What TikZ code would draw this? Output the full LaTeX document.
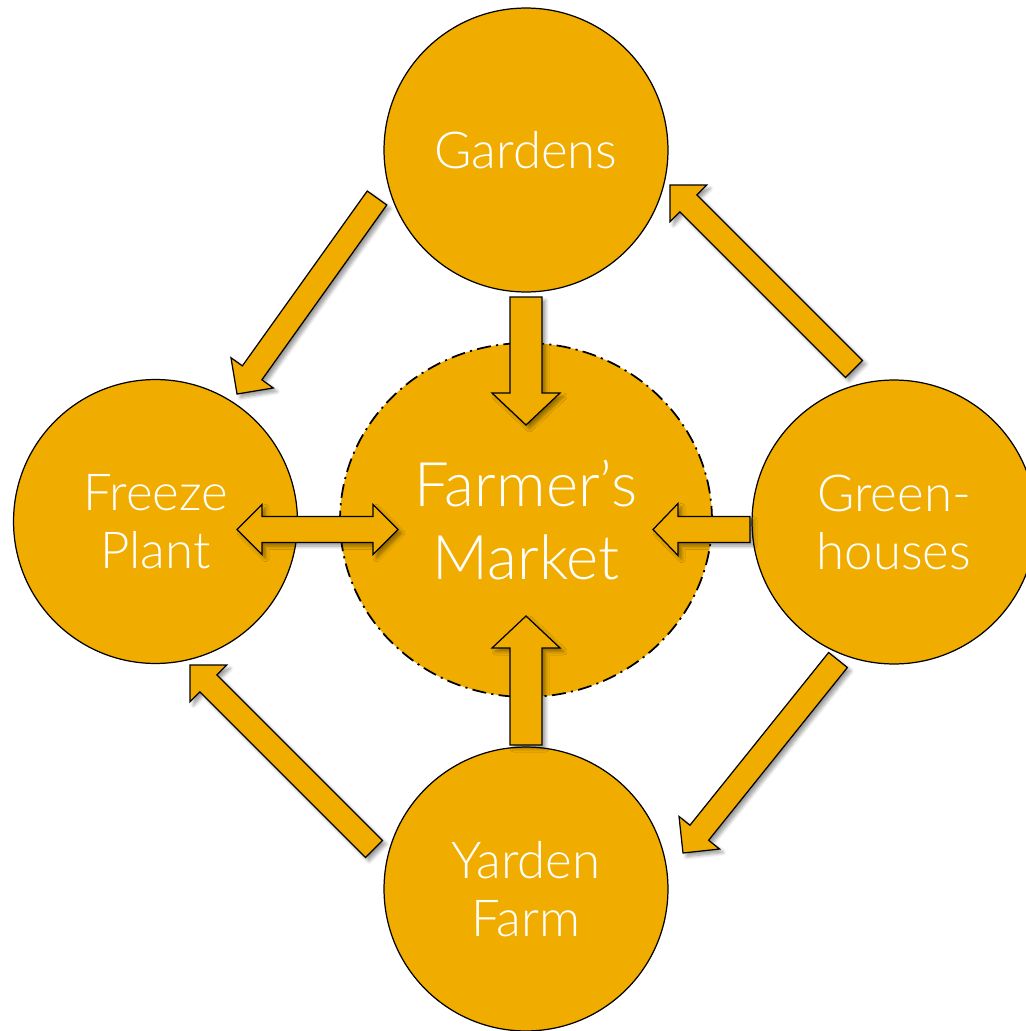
\documentclass[tikz,border=0pt]{standalone}
\usepackage{fontspec}
\setmainfont{Lato}[UprightFont=* Light]
\usetikzlibrary{calc,shapes.geometric,shadows.blur}
\definecolor{harvest}{RGB}{240,173,0}
\tikzset{
  place/.style={circle, draw=black, line width=0.7pt, fill=harvest, text=white,
    minimum size=5.68cm, inner sep=0pt, align=center, font=\fontsize{29}{33}\selectfont},
  market/.style={ellipse, draw=black, line width=1pt,
    dash pattern=on 8pt off 3pt on 1.2pt off 3pt, fill=harvest, text=white,
    minimum width=7.44cm, minimum height=7.08cm, inner sep=0pt, align=center,
    font=\fontsize{35}{41}\selectfont},
  flow/.style={draw=black, line width=0.7pt, fill=harvest, line join=miter,
    blur shadow={shadow xshift=2pt, shadow yshift=-2pt, shadow blur steps=6, shadow opacity=40}},
}
% block arrow: tail, tip, half shaft, half head, head length
\newcommand{\blockarrow}[5]{%
  \coordinate (neck) at ($(#2)!#5!(#1)$);
  \path[flow] ($(#1)!#3!90:(#2)$) -- ($(neck)!#3!-90:(#1)$) -- ($(neck)!#4!-90:(#1)$) -- (#2)
    -- ($(neck)!#4!90:(#1)$) -- ($(neck)!#3!90:(#1)$) -- ($(#1)!#3!-90:(#2)$) -- cycle;}
% double block arrow: end, end, half shaft, half head, head length
\newcommand{\twowayarrow}[5]{%
  \coordinate (necka) at ($(#1)!#5!(#2)$);
  \coordinate (neckb) at ($(#2)!#5!(#1)$);
  \path[flow] (#1) -- ($(necka)!#4!90:(#2)$) -- ($(necka)!#3!90:(#2)$) -- ($(neckb)!#3!-90:(#1)$)
    -- ($(neckb)!#4!-90:(#1)$) -- (#2) -- ($(neckb)!#4!90:(#1)$) -- ($(neckb)!#3!90:(#1)$)
    -- ($(necka)!#3!-90:(#2)$) -- ($(necka)!#4!-90:(#2)$) -- cycle;}
\begin{document}
\begin{tikzpicture}[x=0.02cm, y=-0.02cm]
    \useasboundingbox (0,0) rectangle (1025,1031);
    % Draw places
    \node [place] (gardens) at (526,150) {Gardens};
    \node [place] (freeze) at (155.5,521.5) {Freeze\\Plant};
    \node [place] (green) at (894,522) {Green-\\houses};
    \node [place] (yarden) at (526,889) {Yarden\\Farm};
    \node [market] (market) at (526,520) {Farmer's\\Market};
    % Arrow ends
    \coordinate (gm-tail) at (526,297);
    \coordinate (gm-tip) at (526,425);
    \coordinate (ym-tail) at (526,745);
    \coordinate (ym-tip) at (526,616);
    \coordinate (hm-tail) at (750,529.5);
    \coordinate (hm-tip) at (653,529.5);
    \coordinate (fm-left) at (237,529.5);
    \coordinate (fm-right) at (398,529.5);
    \coordinate (gf-tail) at (377,198);
    \coordinate (gf-tip) at (237,394);
    \coordinate (hg-tail) at (854,369);
    \coordinate (hg-tip) at (670,185);
    \coordinate (hy-tail) at (838,660);
    \coordinate (hy-tip) at (683,853);
    \coordinate (yf-tail) at (374,849);
    \coordinate (yf-tip) at (190,665);
    % Draw arrows
    \blockarrow{gm-tail}{gm-tip}{0.32cm}{0.68cm}{0.64cm}
    \blockarrow{ym-tail}{ym-tip}{0.32cm}{0.68cm}{0.64cm}
    \blockarrow{hm-tail}{hm-tip}{0.26cm}{0.52cm}{0.5cm}
    \twowayarrow{fm-left}{fm-right}{0.26cm}{0.5cm}{0.5cm}
    \blockarrow{gf-tail}{gf-tip}{0.24cm}{0.52cm}{0.52cm}
    \blockarrow{hg-tail}{hg-tip}{0.24cm}{0.52cm}{0.52cm}
    \blockarrow{hy-tail}{hy-tip}{0.24cm}{0.52cm}{0.52cm}
    \blockarrow{yf-tail}{yf-tip}{0.24cm}{0.52cm}{0.52cm}
\end{tikzpicture}
\end{document}
